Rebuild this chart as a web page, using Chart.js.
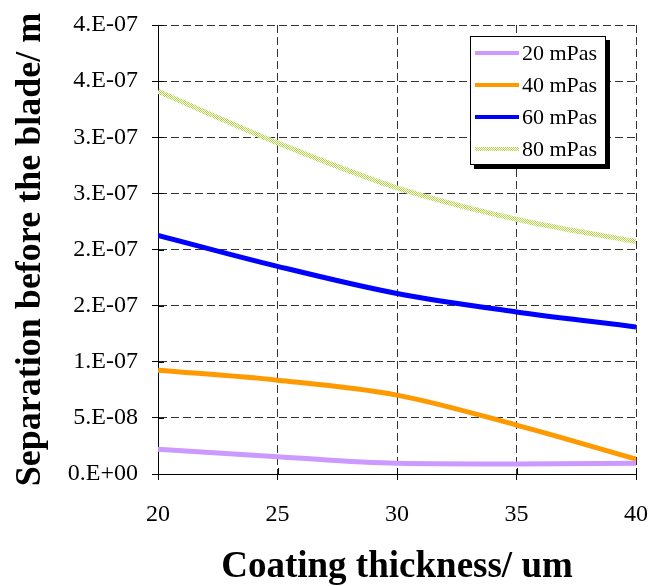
<!DOCTYPE html>
<html><head><meta charset="utf-8">
<script src="https://cdn.jsdelivr.net/npm/chart.js@4"></script>
<style>html,body{margin:0;padding:0;background:#fff;}canvas{display:block;}</style>
</head><body>
<canvas id="c" width="649" height="586"></canvas>
<script>
// ---- data ----
const thickness = [20, 25, 30, 35, 40];
const visc20 = [2.2e-8, 1.54e-8, 0.95e-8, 0.89e-8, 0.95e-8];
const visc40 = [9.25e-8, 8.36e-8, 7.03e-8, 4.36e-8, 1.33e-8];
const visc60 = [2.126e-7, 1.85e-7, 1.608e-7, 1.444e-7, 1.31e-7];
const visc80 = [3.41e-7, 2.95e-7, 2.55e-7, 2.27e-7, 2.07e-7];
const seriesNames = ['20 mPas', '40 mPas', '60 mPas', '80 mPas'];
const yTickValues = [0, 5e-8, 1e-7, 1.5e-7, 2e-7, 2.5e-7, 3e-7, 3.5e-7, 4e-7];
const yTickLabels = ['0.E+00', '5.E-08', '1.E-07', '2.E-07', '2.E-07', '3.E-07', '3.E-07', '4.E-07', '4.E-07'];
const xTickValues = [20, 25, 30, 35, 40];
const xTickLabels = ['20', '25', '30', '35', '40'];
const xTitle = 'Coating thickness/ um';
const yTitle = 'Separation before the blade/ m';

const canvas = document.getElementById('c');
const ctx0 = canvas.getContext('2d');
function makePattern() {
  const p = document.createElement('canvas'); p.width = 2; p.height = 2;
  const g = p.getContext('2d');
  g.fillStyle = '#ffffff'; g.fillRect(0, 0, 2, 2);
  g.fillStyle = '#b0d640'; g.fillRect(0, 0, 1, 1); g.fillRect(1, 1, 1, 1);
  return ctx0.createPattern(p, 'repeat');
}
const greenPattern = makePattern();

const pts = arr => thickness.map((x, i) => ({x: x, y: arr[i]}));
const SERIF = "'Liberation Serif', 'DejaVu Serif', serif";

const crossTicks = {
  id: 'crossTicks',
  beforeDatasetsDraw(chart) {
    const {ctx, chartArea, scales} = chart;
    ctx.save();
    ctx.strokeStyle = '#000'; ctx.lineWidth = 1; ctx.setLineDash([]);
    ctx.beginPath();
    scales.y.ticks.forEach(t => {
      const py = Math.round(scales.y.getPixelForValue(t.value)) + 0.5;
      ctx.moveTo(chartArea.left, py); ctx.lineTo(chartArea.left + 6, py);
    });
    scales.x.ticks.forEach(t => {
      const px = Math.round(scales.x.getPixelForValue(t.value)) + 0.5;
      ctx.moveTo(px, chartArea.bottom); ctx.lineTo(px, chartArea.bottom - 6);
    });
    ctx.stroke();
    ctx.restore();
  }
};

const legendBox = {
  id: 'legendBox',
  afterDraw(chart) {
    const {ctx, chartArea} = chart;
    const w = 136, h = 129;
    const x = chartArea.right - 30 - w;
    const y = chartArea.top + 11;
    ctx.save();
    ctx.fillStyle = '#000';
    ctx.fillRect(x + 4, y + 4, w, h);
    ctx.fillStyle = '#fff';
    ctx.fillRect(x, y, w, h);
    ctx.strokeStyle = '#000'; ctx.lineWidth = 1;
    ctx.strokeRect(x + 0.5, y + 0.5, w - 1, h - 1);
    chart.data.datasets.forEach((ds, i) => {
      const ry = y + 17 + i * 32;
      ctx.beginPath();
      ctx.strokeStyle = ds.borderColor;
      ctx.lineWidth = 4;
      ctx.lineCap = 'butt';
      ctx.moveTo(x + 5, ry); ctx.lineTo(x + 49, ry);
      ctx.stroke();
      ctx.fillStyle = '#000';
      ctx.font = "22px " + SERIF;
      ctx.textBaseline = 'middle';
      ctx.textAlign = 'left';
      ctx.fillText(ds.label, x + 52, ry + 1);
    });
    ctx.restore();
  }
};

new Chart(canvas, {
  type: 'line',
  data: {
    datasets: [
      {label: seriesNames[0], data: pts(visc20), borderColor: '#cc99ff'},
      {label: seriesNames[1], data: pts(visc40), borderColor: '#ff9900'},
      {label: seriesNames[2], data: pts(visc60), borderColor: '#0000ff'},
      {label: seriesNames[3], data: pts(visc80), borderColor: greenPattern}
    ].map(d => Object.assign(d, {borderWidth: 5, pointRadius: 0, fill: false, cubicInterpolationMode: 'monotone'}))
  },
  options: {
    responsive: false,
    animation: false,
    devicePixelRatio: 1,
    layout: {padding: {left: 0, right: 13, top: 25, bottom: 0}},
    plugins: {legend: {display: false}, tooltip: {enabled: false}},
    scales: {
      x: {
        type: 'linear', min: 20, max: 40,
        afterBuildTicks: s => { s.ticks = xTickValues.map(v => ({value: v})); },
        afterFit: s => { s.height = 112; s.paddingLeft = 0; s.paddingRight = 0; },
        ticks: {
          color: '#000', font: {family: SERIF, size: 24}, padding: 20,
          callback: (v, i) => xTickLabels[i]
        },
        grid: {color: '#333', lineWidth: 1, tickLength: 6, tickColor: '#000', drawTicks: true},
        border: {display: true, color: '#000', width: 1, dash: [8, 4]},
        title: {display: true, text: xTitle, color: '#000', font: {family: SERIF, size: 37, weight: 'bold', lineHeight: 1.0}, padding: {top: 0, bottom: 0}}
      },
      y: {
        type: 'linear', min: 0, max: 4e-7,
        afterBuildTicks: s => { s.ticks = yTickValues.map(v => ({value: v})); },
        afterFit: s => { s.width = 158; s.paddingTop = 0; s.paddingBottom = 0; },
        ticks: {
          color: '#000', font: {family: SERIF, size: 24}, padding: 14,
          callback: (v, i) => yTickLabels[i]
        },
        grid: {color: '#333', lineWidth: 1, tickLength: 6, tickColor: '#000', drawTicks: true},
        border: {display: true, color: '#000', width: 1, dash: [8, 4]},
        title: {display: true, text: yTitle, color: '#000', font: {family: SERIF, size: 36, weight: 'bold', lineHeight: 1.2}, padding: {top: 9, bottom: 0}}
      }
    }
  },
  plugins: [crossTicks, legendBox]
});
</script>
</body></html>
